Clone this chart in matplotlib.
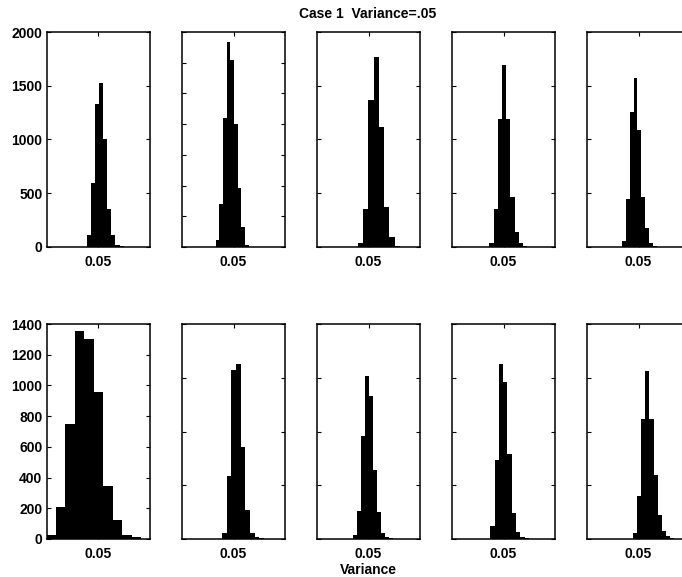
import numpy as np
import matplotlib.pyplot as plt

plt.rcParams['font.family'] = ['Liberation Sans', 'DejaVu Sans']
plt.rcParams['font.weight'] = 'bold'

# Histogram counts of the estimated variance, 10 bins per run
top_counts = [
    [109, 599, 1332, 1525, 1003, 357, 109, 19, 6, 2],
    [46, 281, 839, 1332, 1220, 804, 383, 133, 13, 3],
    [40, 351, 1370, 1767, 1115, 376, 90, 12, 3, 1],
    [40, 350, 1190, 1697, 1190, 467, 142, 34, 8, 2],
    [59, 443, 1257, 1573, 1093, 461, 173, 34, 9, 3],
]
top_first_edge = [0.0389, 0.0327, 0.0397, 0.0364, 0.0341]
top_bin_width = [0.0040, 0.00356, 0.00508, 0.00406, 0.00373]
top_ymax = [2000, 1400, 2000, 2000, 2000]
top_ystep = [500, 200, 500, 500, 500]

bottom_counts = [
    [28, 206, 749, 1352, 1302, 960, 347, 122, 28, 11],
    [56, 583, 1575, 1631, 856, 267, 56, 19, 6, 2],
    [40, 257, 961, 1519, 1333, 639, 254, 56, 19, 5],
    [118, 738, 1628, 1457, 791, 242, 62, 19, 5, 2],
    [56, 397, 1116, 1560, 1116, 592, 226, 78, 25, 8],
]
bottom_first_edge = [0.0, 0.0388, 0.0352, 0.0371, 0.0445]
bottom_bin_width = [0.0092, 0.00453, 0.00387, 0.00419, 0.00403]
bottom_ymax = [1400, 2000, 2000, 2000, 2000]
bottom_ystep = [200, 500, 500, 500, 500]

xtick_value = 0.05
xtick_label = '0.05'

W, H = 682, 577
fig = plt.figure(figsize=(W / 100, H / 100), dpi=100)

col_left_px = [46.5, 182, 317, 452, 587]
panel_w_px = 103
rows = [
    (32, top_counts, top_first_edge, top_bin_width, top_ymax, top_ystep),
    (324, bottom_counts, bottom_first_edge, bottom_bin_width, bottom_ymax, bottom_ystep),
]
panel_h_px = 215

for top_px, counts, first_edge, bin_width, ymax, ystep in rows:
    for i, left_px in enumerate(col_left_px):
        ax = fig.add_axes([left_px / W, 1 - (top_px + panel_h_px) / H,
                           panel_w_px / W, panel_h_px / H])
        c = counts[i]
        edges = first_edge[i] + bin_width[i] * np.arange(len(c))
        ax.bar(edges, c, width=bin_width[i], align='edge', color='black', linewidth=0)
        ax.set_xlim(0, 0.1)
        ax.set_ylim(0, ymax[i])
        ax.set_xticks([xtick_value])
        ax.set_xticklabels([xtick_label])
        ax.set_yticks(np.arange(0, ymax[i] + 1, ystep[i]))
        if i > 0:
            ax.set_yticklabels([])
        ax.tick_params(direction='in', top=True, right=True, length=3, width=0.8,
                       labelsize=10, color='black')
        ax.tick_params(axis='x', pad=6)
        ax.tick_params(axis='y', pad=3)
        for s in ax.spines.values():
            s.set_linewidth(1.1)

fig.text(368 / W, 1 - 14 / H, 'Case 1  Variance=.05', ha='center', va='center', fontsize=10)
fig.text(368 / W, 1 - 570 / H, 'Variance', ha='center', va='center', fontsize=10)

fig.savefig('out.png', dpi=100)
